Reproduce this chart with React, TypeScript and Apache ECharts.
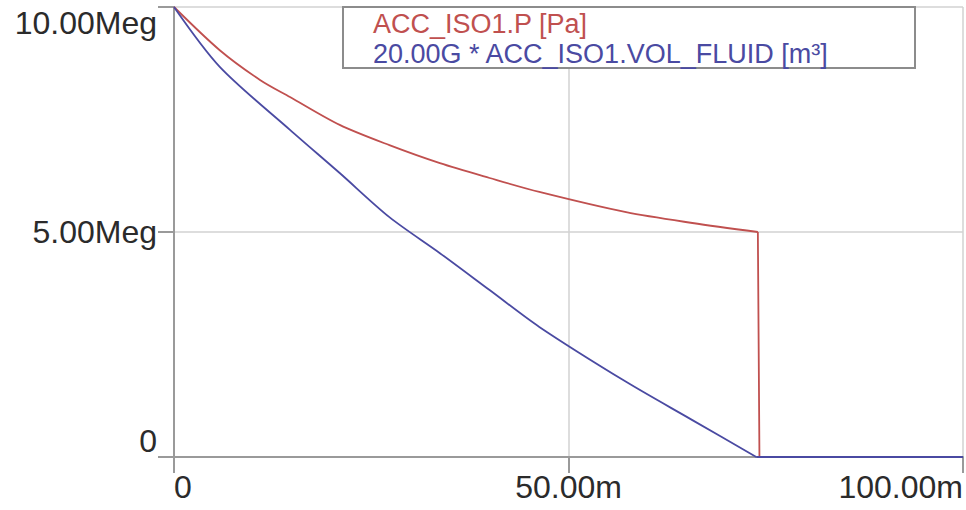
import React, { useEffect, useRef } from "react";
import * as echarts from "echarts";

// time in ms, values in Meg
const pressureT = [0, 5.8, 10.9, 14.7, 21.0, 27.3, 33.7, 40.0, 46.3, 57.3, 65.7, 74.0];
const pressureV = [10.0, 9.04, 8.38, 8.0, 7.38, 6.93, 6.53, 6.2, 5.89, 5.44, 5.2, 5.0];
const pressureTailT = [74.0, 74.2, 100];
const pressureTailV = [5.0, 0, 0];

const volumeT = [0, 5.8, 14.7, 21.0, 27.3, 33.7, 40.0, 46.3, 57.3, 65.7, 73.8];
const volumeV = [10.0, 8.67, 7.27, 6.31, 5.33, 4.53, 3.71, 2.89, 1.67, 0.82, 0];
const volumeTailT = [73.8, 100];
const volumeTailV = [0, 0];

const seriesNames = ["ACC_ISO1.P [Pa]", "20.00G * ACC_ISO1.VOL_FLUID [m³]"];
const seriesColors = ["#c0504f", "#4a4aa2"];

const FONT = "Liberation Sans, Arial, sans-serif";

export default function App() {
  const ref = useRef<HTMLDivElement>(null);
  useEffect(() => {
    document.body.style.margin = "0";
    const chart = echarts.init(ref.current!, null, { renderer: "svg" });
    const pair = (ts: number[], vs: number[]) => ts.map((t, i) => [t, vs[i]]);
    const line = (name: string, data: number[][], color: string, smooth: number | boolean) => ({
      name,
      type: "line",
      data,
      showSymbol: false,
      smooth,
      lineStyle: { color, width: 1.8 },
      itemStyle: { color },
    });
    chart.setOption({
      animation: false,
      backgroundColor: "#ffffff",
      grid: { left: 174, right: 2, top: 7, bottom: 53 },
      xAxis: {
        type: "value",
        min: 0,
        max: 100,
        interval: 50,
        axisLine: { show: true, lineStyle: { color: "#9a9a9a", width: 2 } },
        axisTick: { show: true, length: 16, lineStyle: { color: "#9a9a9a", width: 2 } },
        splitLine: { show: true, lineStyle: { color: "#d2d2d2", width: 1.5 } },
        axisLabel: {
          formatter: (v: number) => (v === 0 ? "0" : v.toFixed(2) + "m"),
          fontSize: 32,
          fontFamily: FONT,
          color: "#2b2b2b",
          margin: 14,
          alignMinLabel: "left",
          alignMaxLabel: "right",
        },
      },
      yAxis: {
        type: "value",
        min: 0,
        max: 10,
        interval: 5,
        axisLine: { show: true, lineStyle: { color: "#9a9a9a", width: 2 } },
        axisTick: { show: true, length: 16, lineStyle: { color: "#9a9a9a", width: 2 } },
        splitLine: { show: true, lineStyle: { color: "#d2d2d2", width: 1.5 } },
        axisLabel: {
          formatter: (v: number) => (v === 0 ? "0" : v.toFixed(2) + "Meg"),
          fontSize: 32,
          fontFamily: FONT,
          color: "#2b2b2b",
          margin: 17,
          verticalAlignMinLabel: "bottom",
          verticalAlignMaxLabel: "top",
        },
      },
      series: [
        line(seriesNames[0], pair(pressureT, pressureV), seriesColors[0], 0.3),
        line(seriesNames[0] + " ", pair(pressureTailT, pressureTailV), seriesColors[0], false),
        line(seriesNames[1], pair(volumeT, volumeV), seriesColors[1], 0.3),
        line(seriesNames[1] + " ", pair(volumeTailT, volumeTailV), seriesColors[1], false),
      ],
      graphic: [
        {
          type: "rect",
          z: 100,
          shape: { x: 343, y: 7, width: 572, height: 61 },
          style: { fill: "#ffffff", stroke: "#8c8c8c", lineWidth: 2 },
        },
        {
          type: "text",
          z: 101,
          x: 373,
          y: 24,
          style: {
            text: seriesNames[0],
            fill: seriesColors[0],
            fontSize: 27,
            fontFamily: FONT,
            verticalAlign: "middle",
          },
        },
        {
          type: "text",
          z: 101,
          x: 373,
          y: 54,
          style: {
            text: seriesNames[1],
            fill: seriesColors[1],
            fontSize: 27,
            fontFamily: FONT,
            verticalAlign: "middle",
          },
        },
      ],
    });
    return () => chart.dispose();
  }, []);
  return <div ref={ref} style={{ width: 966, height: 510 }} />;
}
